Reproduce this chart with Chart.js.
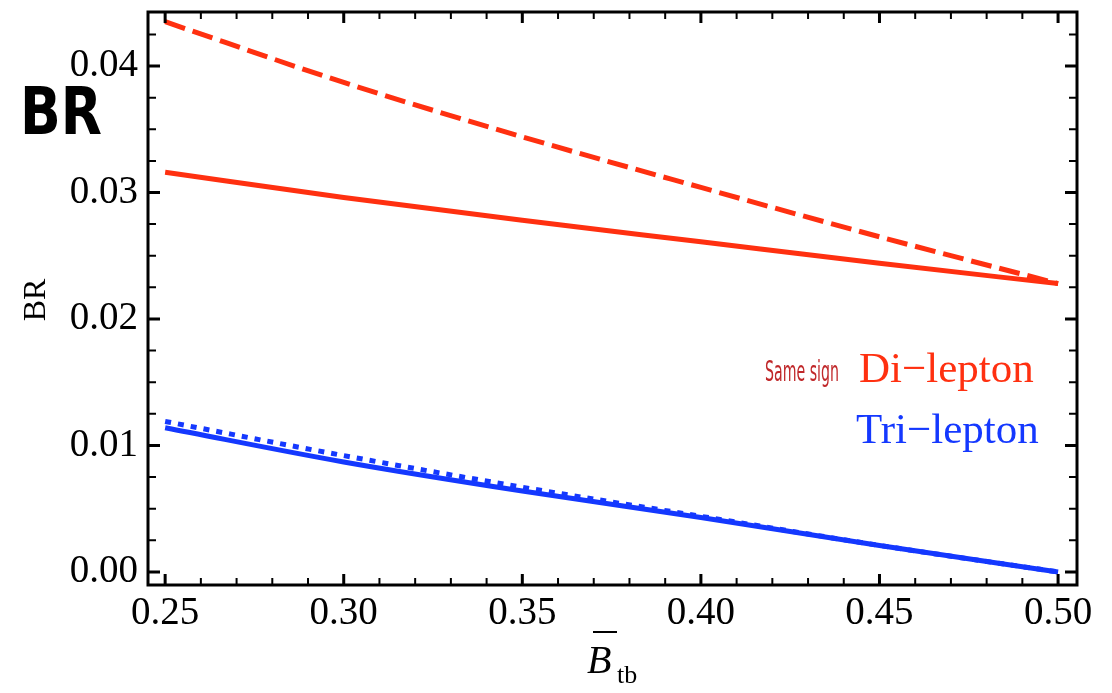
<!DOCTYPE html>
<html>
<head>
<meta charset="utf-8">
<script src="https://cdn.jsdelivr.net/npm/chart.js@4.4.0/dist/chart.umd.min.js"></script>
<style>
  html, body { margin: 0; padding: 0; background: #fff; }
  #wrap { width: 1112px; height: 693px; }
</style>
</head>
<body>
<div id="wrap"><canvas id="brChart" width="1112" height="693"></canvas></div>
<script>
// B_tb values along the x axis
const btb = [0.25, 0.30, 0.35, 0.40, 0.45, 0.50];
// same sign di-lepton BR (dashed and solid)
const diDashed = [0.0435, 0.0387, 0.0344, 0.0304, 0.0265, 0.0228];
const diSolid = [0.0316, 0.0296, 0.0278, 0.0261, 0.0244, 0.0228];
// tri-lepton BR (dotted and solid)
const triDotted = [0.0119, 0.0092, 0.0067, 0.0044, 0.0021, 0.0];
const triSolid = [0.0114, 0.0087, 0.0064, 0.0043, 0.0021, 0.0];

const xTicks = [0.25, 0.30, 0.35, 0.40, 0.45, 0.50];
const yTicks = [0.00, 0.01, 0.02, 0.03, 0.04];

const red = "#ff3010";
const blue = "#1438ff";
const serif = "'Liberation Serif', 'DejaVu Serif', serif";

function pts(ys) {
    return btb.map((x, i) => ({ x: x, y: ys[i] }));
}

// text squeezed horizontally to a given width, keeping its height
function squeezeText(ctx, text, x, y, width) {
    const w = ctx.measureText(text).width;
    ctx.save();
    ctx.translate(x, y);
    ctx.scale(Math.min(1, width / w), 1);
    ctx.fillText(text, 0, 0);
    ctx.restore();
}

// frame + inward ticks like Mathematica
const framePlugin = {
    id: "frame",
    afterDraw(chart) {
        const ctx = chart.ctx;
        const a = chart.chartArea;
        const xs = chart.scales.x, ys = chart.scales.y;
        ctx.save();
        ctx.strokeStyle = "#000";
        ctx.lineCap = "butt";
        // x ticks
        for (let k = 25; k <= 50; k++) {
            const px = xs.getPixelForValue(k / 100);
            const major = k % 5 === 0;
            const len = major ? 11 : 7;
            ctx.lineWidth = major ? 3 : 2;
            ctx.beginPath();
            ctx.moveTo(px, a.bottom); ctx.lineTo(px, a.bottom - len);
            ctx.moveTo(px, a.top); ctx.lineTo(px, a.top + len);
            ctx.stroke();
        }
        // y ticks
        for (let k = 0; k <= 17; k++) {
            const v = k * 0.0025;
            const py = ys.getPixelForValue(v);
            const major = k % 4 === 0;
            const len = major ? 12 : 8;
            ctx.lineWidth = major ? 3 : 2;
            ctx.beginPath();
            ctx.moveTo(a.left, py); ctx.lineTo(a.left + len, py);
            ctx.moveTo(a.right, py); ctx.lineTo(a.right - len, py);
            ctx.stroke();
        }
        ctx.lineWidth = 3;
        ctx.strokeRect(a.left, a.top, a.right - a.left, a.bottom - a.top);

        // labels inside the plot
        ctx.textBaseline = "alphabetic";
        ctx.fillStyle = "#c0282a";
        ctx.font = "28px 'DejaVu Sans', sans-serif";
        squeezeText(ctx, "Same sign", 765, 381, 74);
        ctx.fillStyle = red;
        ctx.font = "43px " + serif;
        ctx.fillText("Di\u2212lepton", 859, 382);
        ctx.fillStyle = blue;
        ctx.fillText("Tri\u2212lepton", 856, 443);

        // big BR
        ctx.fillStyle = "#000";
        ctx.font = "bold 66px 'DejaVu Sans', sans-serif";
        squeezeText(ctx, "BR", 20, 134, 82);

        // y axis title
        ctx.save();
        ctx.translate(45, 300);
        ctx.rotate(-Math.PI / 2);
        ctx.textAlign = "center";
        ctx.font = "32px " + serif;
        ctx.fillText("BR", 0, 0);
        ctx.restore();

        // x axis title: B-bar with subscript tb
        ctx.font = "italic 40px " + serif;
        ctx.fillText("B", 587, 673);
        ctx.lineWidth = 2;
        ctx.beginPath();
        ctx.moveTo(593, 632); ctx.lineTo(617, 632);
        ctx.stroke();
        ctx.font = "26px " + serif;
        ctx.fillText("tb", 617, 683);
        ctx.restore();
    }
};

const ctx = document.getElementById("brChart").getContext("2d");
const brChart = new Chart(ctx, {
    type: "line",
    data: {
        datasets: [
            { data: pts(diDashed), borderColor: red, borderWidth: 5, borderDash: [21, 8] },
            { data: pts(diSolid), borderColor: red, borderWidth: 5 },
            { data: pts(triDotted), borderColor: blue, borderWidth: 5, borderDash: [6, 7] },
            { data: pts(triSolid), borderColor: blue, borderWidth: 5 }
        ]
    },
    options: {
        responsive: false,
        animation: false,
        events: [],
        layout: { padding: { left: 0, right: 35, top: 12, bottom: 0 } },
        elements: {
            point: { radius: 0 },
            line: { cubicInterpolationMode: "monotone", borderCapStyle: "butt", fill: false }
        },
        plugins: { legend: { display: false }, tooltip: { enabled: false } },
        scales: {
            x: {
                type: "linear",
                min: 0.2452,
                max: 0.5053,
                afterBuildTicks: s => { s.ticks = xTicks.map(v => ({ value: v })); },
                afterFit: s => { s.height = 108; s.paddingLeft = 0; s.paddingRight = 0; },
                grid: { display: false, drawTicks: false },
                border: { display: false },
                ticks: {
                    padding: 5,
                    color: "#000",
                    font: { family: serif, size: 39 },
                    maxRotation: 0,
                    callback: v => v.toFixed(2)
                }
            },
            y: {
                type: "linear",
                min: -0.00103,
                max: 0.04427,
                afterBuildTicks: s => { s.ticks = yTicks.map(v => ({ value: v })); },
                afterFit: s => { s.width = 148; s.paddingTop = 0; s.paddingBottom = 0; },
                grid: { display: false, drawTicks: false },
                border: { display: false },
                ticks: {
                    padding: 10,
                    color: "#000",
                    font: { family: serif, size: 39 },
                    callback: v => v.toFixed(2)
                }
            }
        }
    },
    plugins: [framePlugin]
});
</script>
</body>
</html>
